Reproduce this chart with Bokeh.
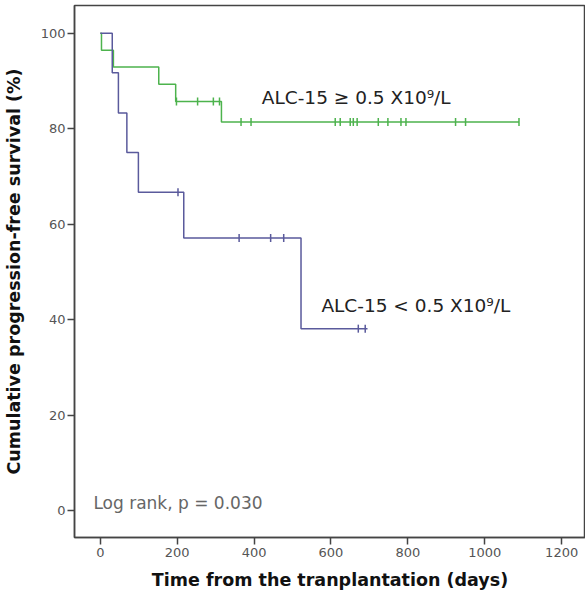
import numpy as np
from bokeh.plotting import figure
from bokeh.models import ColumnDataSource, Label, FixedTicker
from bokeh.embed import file_html
from bokeh.resources import INLINE

# ---- data ----
high_event_days = [0, 3, 34, 152, 196, 315]
high_surv = [100, 96.4, 92.9, 89.3, 85.7, 81.4]
high_end_day = 1089
high_censor_days = [198, 253, 294, 310, 366, 392, 611, 624, 650, 658, 668,
                    723, 748, 782, 795, 924, 950, 1089]

low_event_days = [0, 31, 47, 69, 99, 217, 522]
low_surv = [100, 91.7, 83.3, 75.0, 66.7, 57.1, 38.1]
low_end_day = 695
low_censor_days = [202, 361, 443, 477, 671, 689]

x_ticks = [0, 200, 400, 600, 800, 1000, 1200]
y_ticks = [0, 20, 40, 60, 80, 100]

GREEN = "#4db34d"
BLUE = "#5a5a9c"


def surv_at(days, ev_days, surv):
    idx = np.searchsorted(np.array(ev_days), np.array(days), side="right") - 1
    return [surv[i] for i in idx]


p = figure(width=585, height=598, output_backend="svg", toolbar_location=None,
           x_range=(-67.2, 1262), y_range=(-5.65, 105.8),
           min_border_left=74, min_border_right=0, min_border_top=5,
           min_border_bottom=61)
p.grid.visible = False
p.outline_line_color = "#444444"
p.outline_line_width = 1.5
p.background_fill_color = "white"

# step curves
for ev, sv, end, col in [(high_event_days, high_surv, high_end_day, GREEN),
                         (low_event_days, low_surv, low_end_day, BLUE)]:
    xs = list(ev) + [end]
    ys = list(sv) + [sv[-1]]
    p.step(xs, ys, mode="after", line_color=col, line_width=1.5)

# censor marks
for cd, ev, sv, col in [(high_censor_days, high_event_days, high_surv, GREEN),
                        (low_censor_days, low_event_days, low_surv, BLUE)]:
    src = ColumnDataSource(dict(x=cd, y=surv_at(cd, ev, sv)))
    p.scatter("x", "y", source=src, marker="dash", angle=np.pi / 2, size=8,
              line_color=col, line_width=1.5)

# axes
p.xaxis.ticker = FixedTicker(ticks=x_ticks)
p.yaxis.ticker = FixedTicker(ticks=y_ticks)
for ax in (p.xaxis, p.yaxis):
    ax.axis_line_color = "#444444"
    ax.axis_line_width = 1.5
    ax.major_tick_line_color = "#444444"
    ax.major_tick_line_width = 1.5
    ax.major_tick_in = 0
    ax.major_tick_out = 7
    ax.minor_tick_line_color = None
    ax.major_label_text_font = "DejaVu Sans"
    ax.major_label_text_font_size = "13px"
    ax.major_label_text_color = "#555555"
    ax.axis_label_text_font = "DejaVu Sans"
    ax.axis_label_text_font_style = "bold"
    ax.axis_label_text_font_size = "17.5px"
    ax.axis_label_text_color = "#111111"
p.xaxis.axis_label = "Time from the tranplantation (days)"
p.yaxis.axis_label = "Cumulative progression-free survival (%)"
p.xaxis.major_label_standoff = 3
p.yaxis.major_label_standoff = 2
p.xaxis.axis_label_standoff = 10
p.yaxis.axis_label_standoff = 14

# annotations
p.add_layout(Label(x=420, y=86.5, text="ALC-15 ≥ 0.5 X10⁹/L",
                   text_font="DejaVu Sans", text_font_size="18.5px",
                   text_color="#222222", text_baseline="middle"))
p.add_layout(Label(x=575, y=43, text="ALC-15 < 0.5 X10⁹/L",
                   text_font="DejaVu Sans", text_font_size="18.5px",
                   text_color="#222222", text_baseline="middle"))
p.add_layout(Label(x=-18, y=1.5, text="Log rank, p = 0.030",
                   text_font="DejaVu Sans", text_font_size="17px",
                   text_color="#666666", text_baseline="middle"))

open("out.html", "w").write(file_html(p, INLINE))
